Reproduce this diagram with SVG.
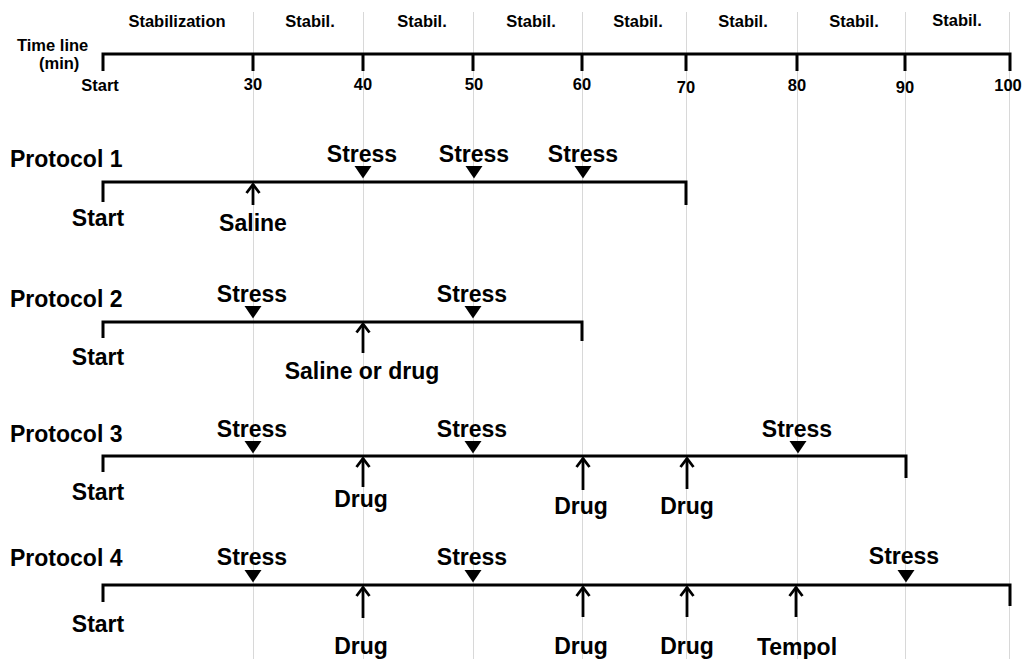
<svg xmlns="http://www.w3.org/2000/svg" xmlns:xlink="http://www.w3.org/1999/xlink" width="1025" height="659" viewBox="0 0 1025 659">
<style>
text{font-family:"Liberation Sans",Arial,Helvetica,sans-serif;font-weight:bold;fill:#000}
.s{font-size:16.5px}
.l{font-size:23px}
.m{text-anchor:middle}
.grid{stroke:#d8d8d8;stroke-width:1;fill:none}
.axis{stroke:#000;stroke-width:3;fill:none}
.arr{stroke:#000;stroke-width:2.8;fill:none;marker-end:url(#chev)}
</style>
<defs>
<marker id="chev" viewBox="-11 -8 13 16" refX="0" refY="0" markerWidth="13" markerHeight="16" markerUnits="userSpaceOnUse" orient="auto">
<path d="M-8.5,-6.5 L0,0 L-8.5,6.5" fill="none" stroke="#000" stroke-width="2.8"/>
</marker>
<path id="tri" d="M-8.5,0 L8.5,0 L0,12.5 Z" fill="#000"/>
</defs>
<rect width="1025" height="659" fill="#fff"/>
<g id="grid">
<path class="grid" d="M253.5,12V659M363.5,12V659M473.5,12V659M582.5,12V659M686.5,12V659M797.5,12V659M905.5,12V659M1009.5,12V659"/>
</g>
<g id="timeline">
<path class="axis" d="M103,71V54H1010V71M253,54V71M363,54V71M473,54V71M582,54V71M686,54V71M797,54V71M905,54V71"/>
<text class="s m" x="177" y="27">Stabilization</text>
<text class="s m" x="310" y="27">Stabil.</text>
<text class="s m" x="422" y="27">Stabil.</text>
<text class="s m" x="531" y="27">Stabil.</text>
<text class="s m" x="638" y="27">Stabil.</text>
<text class="s m" x="743" y="27">Stabil.</text>
<text class="s m" x="854" y="27">Stabil.</text>
<text class="s m" x="957" y="26">Stabil.</text>
<text class="s" x="17" y="51">Time line</text>
<text class="s" x="39" y="69">(min)</text>
<text class="s m" x="100" y="91">Start</text>
<text class="s m" x="253" y="90">30</text>
<text class="s m" x="363" y="90">40</text>
<text class="s m" x="474" y="90">50</text>
<text class="s m" x="582" y="90">60</text>
<text class="s m" x="686" y="93">70</text>
<text class="s m" x="797" y="91">80</text>
<text class="s m" x="905" y="93">90</text>
<text class="s m" x="1008" y="91">100</text>
</g>
<g id="protocol1">
<text class="l" x="10" y="167">Protocol 1</text>
<path class="axis" d="M103,202V182H686V205"/>
<text class="l m" x="98" y="226">Start</text>
<use xlink:href="#tri" x="363" y="166"/>
<use xlink:href="#tri" x="474" y="166"/>
<use xlink:href="#tri" x="583" y="166"/>
<text class="l m" x="362" y="162">Stress</text>
<text class="l m" x="474" y="162">Stress</text>
<text class="l m" x="583" y="162">Stress</text>
<text class="l m" x="253" y="231">Saline</text>
</g>
<g id="protocol2">
<text class="l" x="10" y="307">Protocol 2</text>
<path class="axis" d="M103,338V322H582V341"/>
<text class="l m" x="98" y="365">Start</text>
<use xlink:href="#tri" x="253" y="306"/>
<use xlink:href="#tri" x="473" y="306"/>
<text class="l m" x="252" y="302">Stress</text>
<text class="l m" x="472" y="302">Stress</text>
<text class="l m" x="362" y="379">Saline or drug</text>
</g>
<g id="protocol3">
<text class="l" x="10" y="442">Protocol 3</text>
<path class="axis" d="M103,472V456H906V478"/>
<text class="l m" x="98" y="500">Start</text>
<use xlink:href="#tri" x="253" y="441"/>
<use xlink:href="#tri" x="473" y="441"/>
<use xlink:href="#tri" x="798" y="441"/>
<text class="l m" x="252" y="437">Stress</text>
<text class="l m" x="472" y="437">Stress</text>
<text class="l m" x="797" y="437">Stress</text>
<text class="l m" x="361" y="507">Drug</text>
<text class="l m" x="581" y="514">Drug</text>
<text class="l m" x="687" y="514">Drug</text>
</g>
<g id="protocol4">
<text class="l" x="10" y="566">Protocol 4</text>
<path class="axis" d="M103,602V585H1010V606"/>
<text class="l m" x="98" y="632">Start</text>
<use xlink:href="#tri" x="253" y="570"/>
<use xlink:href="#tri" x="473" y="570"/>
<use xlink:href="#tri" x="906" y="570"/>
<text class="l m" x="252" y="565">Stress</text>
<text class="l m" x="472" y="565">Stress</text>
<text class="l m" x="904" y="564">Stress</text>
<text class="l m" x="361" y="654">Drug</text>
<text class="l m" x="581" y="654">Drug</text>
<text class="l m" x="687" y="654">Drug</text>
<text class="l m" x="797" y="655">Tempol</text>
</g>
<g id="connectors">
<path class="arr" d="M253,205V184.5"/>
<path class="arr" d="M363,353V324"/>
<path class="arr" d="M363,487V458.5"/>
<path class="arr" d="M583,490V458.5"/>
<path class="arr" d="M687,489V458.5"/>
<path class="arr" d="M363,618V587.5"/>
<path class="arr" d="M583,617V587.5"/>
<path class="arr" d="M687,617V587.5"/>
<path class="arr" d="M796,617V587.5"/>
</g>
</svg>
